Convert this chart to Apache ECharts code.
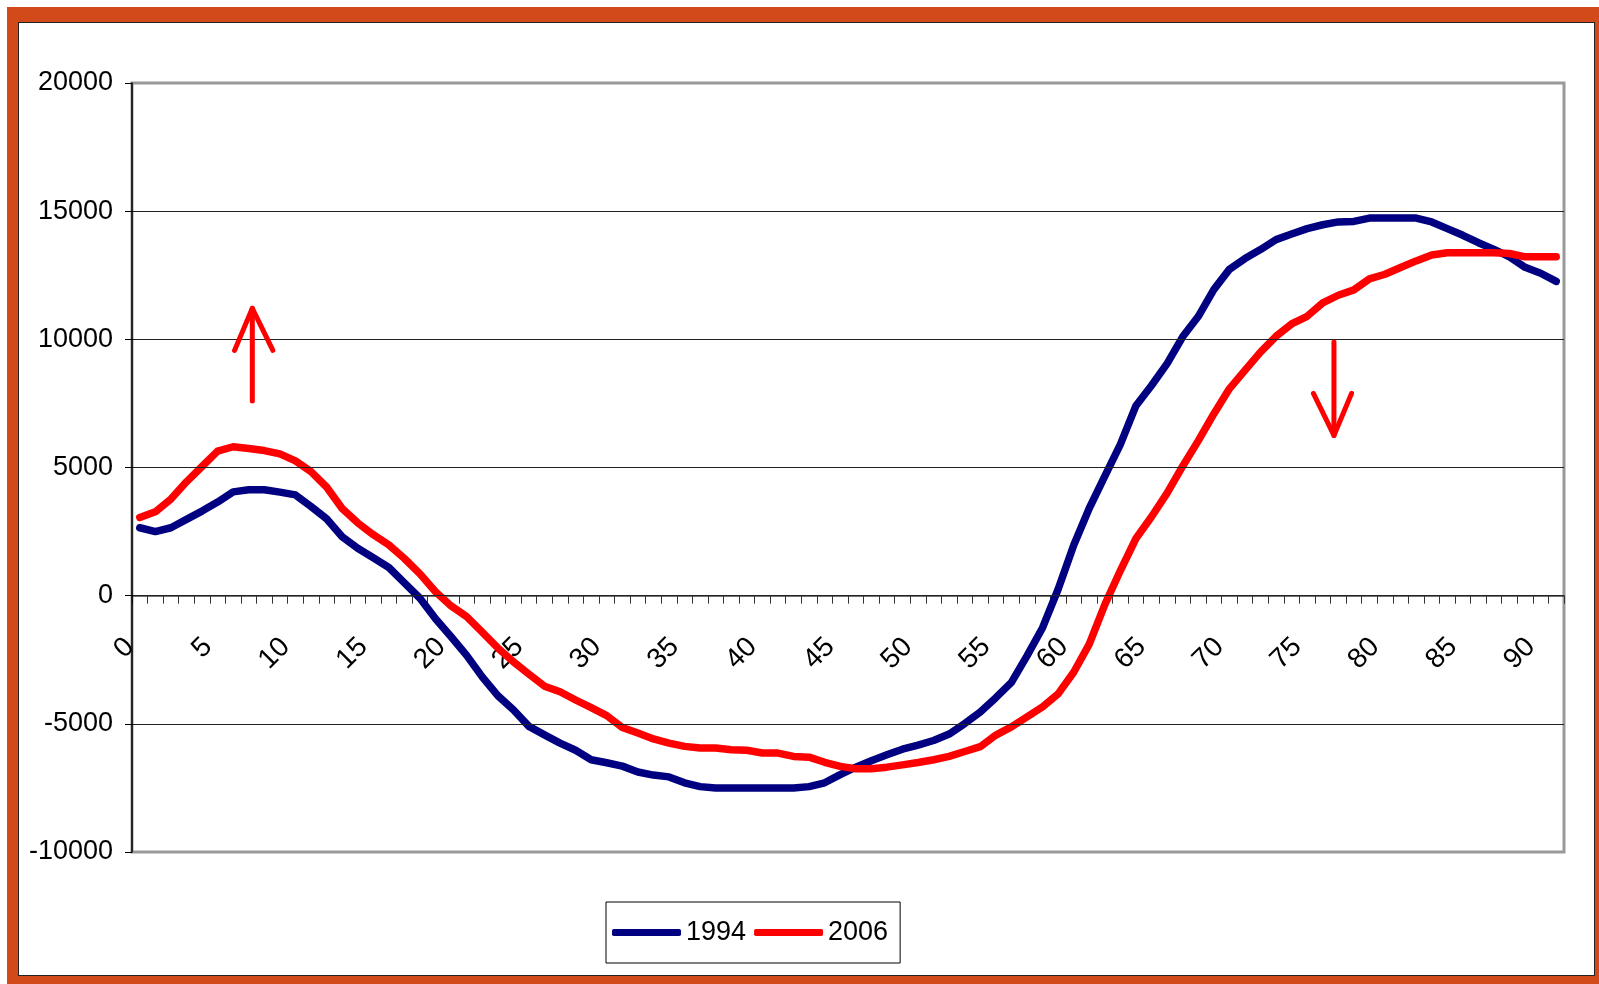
<!DOCTYPE html>
<html>
<head>
<meta charset="utf-8">
<script src="https://cdn.jsdelivr.net/npm/echarts@6/dist/echarts.min.js"></script>
<style>
html,body{margin:0;padding:0;background:#fff;}
#frame{position:absolute;left:7px;top:7px;width:1592px;height:977px;background:#D24A1A;}
#inner{position:absolute;left:18px;top:22px;width:1577px;height:954px;background:#fff;border:1px solid #222;box-sizing:border-box;}
#chart{position:absolute;left:0;top:0;width:1599px;height:984px;}
</style>
</head>
<body>
<div id="frame"></div>
<div id="inner"></div>
<div id="chart"></div>
<script>
// Categories 0..91
const categories = [];
for (let i = 0; i <= 91; i++) categories.push(String(i));

const values1994 = [
  2650, 2500, 2650, 2975, 3300, 3650, 4050, 4130, 4130, 4040,
  3930, 3480, 3000, 2300, 1850, 1480, 1100, 500, -100, -900,
  -1600, -2330, -3170, -3900, -4450, -5100, -5430, -5750, -6030, -6400,
  -6520, -6650, -6880, -7000, -7070, -7300, -7450, -7500, -7500, -7500,
  -7500, -7500, -7500, -7450, -7300, -6980, -6690, -6440, -6210, -5990,
  -5830, -5650, -5400, -4990, -4540, -3980, -3380, -2350, -1250, 250,
  1970, 3410, 4660, 5900, 7410, 8200, 9050, 10100, 10890, 11940,
  12730, 13150, 13500, 13890, 14110, 14320, 14470, 14580, 14600, 14730,
  14730, 14730, 14730, 14580, 14320, 14060, 13770, 13510, 13220, 12810,
  12580, 12260
];

const values2006 = [
  3050, 3270, 3770, 4440, 5040, 5640, 5810, 5740, 5660, 5530,
  5260, 4840, 4240, 3400, 2840, 2380, 1980, 1450, 850, 150,
  -400, -820, -1420, -2040, -2580, -3060, -3530, -3750, -4070, -4370,
  -4680, -5140, -5360, -5590, -5750, -5880, -5940, -5940, -6010, -6030,
  -6140, -6140, -6270, -6300, -6500, -6660, -6750, -6750, -6690, -6600,
  -6510, -6400, -6270, -6080, -5890, -5440, -5120, -4730, -4340, -3830,
  -2990, -1890, -350, 980, 2230, 3080, 4000, 5050, 6040, 7090,
  8070, 8790, 9500, 10120, 10600, 10900, 11420, 11720, 11930, 12360,
  12540, 12800, 13060, 13290, 13380, 13380, 13380, 13380, 13350, 13220,
  13220, 13220
];

const seriesNames = ['1994', '2006'];
const yTicks = [-10000, 20000, 5000]; // min, max, interval

// Annotation arrows (x in category units, y in data units)
const upArrowShaft = [[7.23, 7590], [7.23, 11210]];
const upArrowHead = [[6.09, 9570], [7.23, 11210], [8.55, 9570]];
const downArrowShaft = [[76.72, 9900], [76.72, 6250]];
const downArrowHead = [[75.4, 7890], [76.72, 6250], [77.85, 7890]];

const FONT = "'Liberation Sans', Arial, sans-serif";

const GRID = {left: 132, top: 83, width: 1432, height: 769};
// pixel distance from grid bottom up to the zero line
const zeroOffset = -GRID.height * (0 - yTicks[0]) / (yTicks[1] - yTicks[0]);

const chart = echarts.init(document.getElementById('chart'), null, {renderer: 'canvas'});

function arrowSeries(data) {
  return {
    type: 'line', xAxisIndex: 1, yAxisIndex: 0, data: data,
    symbol: 'none', silent: true, z: 4,
    lineStyle: {color: '#FF0000', width: 5, cap: 'round', join: 'round'}
  };
}

chart.setOption({
  animation: false,
  backgroundColor: 'transparent',
  grid: Object.assign({show: true, borderColor: '#999', borderWidth: 3, backgroundColor: 'transparent'}, GRID),
  legend: {
    data: seriesNames,
    left: 606, top: 902,
    padding: [17, 12, 17, 6],
    itemGap: 8,
    itemWidth: 69, itemHeight: 7,
    icon: 'roundRect',
    borderColor: '#000', borderWidth: 1,
    backgroundColor: '#fff',
    textStyle: {fontFamily: FONT, fontSize: 27, color: '#000'}
  },
  xAxis: [{
    type: 'category',
    data: categories,
    boundaryGap: true,
    z: 1,
    offset: zeroOffset,
    axisLine: {onZero: false, lineStyle: {color: '#444', width: 1.5}},
    axisTick: {show: true, interval: 0, length: 8, lineStyle: {color: '#333', width: 1}},
    axisLabel: {
      interval: 4, rotate: 45, margin: 37,
      padding: [0, 14, 0, 0],
      fontFamily: FONT, fontSize: 28, color: '#000'
    },
    splitLine: {show: false}
  }, {
    type: 'value', show: false, min: -0.5, max: 91.5,
    axisLine: {show: false}, splitLine: {show: false}
  }],
  yAxis: [{
    type: 'value',
    min: yTicks[0], max: yTicks[1], interval: yTicks[2],
    z: 3,
    axisLine: {show: true, onZero: false, lineStyle: {color: '#000', width: 1.5}},
    axisTick: {show: true, length: 7, lineStyle: {color: '#000', width: 1}},
    axisLabel: {margin: 19, fontFamily: FONT, fontSize: 27, color: '#000',
      formatter: function (v) { return String(v); }},
    splitLine: {show: true, lineStyle: {color: ['#999', '#222', '#222', '#222', '#222', '#222', '#999'], width: 1}}
  }],
  series: [{
    name: seriesNames[0], type: 'line', data: values1994,
    symbol: 'none', z: 2,
    itemStyle: {color: '#000080'},
    lineStyle: {color: '#000080', width: 7.5, cap: 'round', join: 'round'}
  }, {
    name: seriesNames[1], type: 'line', data: values2006,
    symbol: 'none', z: 2,
    itemStyle: {color: '#FF0000'},
    lineStyle: {color: '#FF0000', width: 7.5, cap: 'round', join: 'round'}
  },
  arrowSeries(upArrowShaft), arrowSeries(upArrowHead),
  arrowSeries(downArrowShaft), arrowSeries(downArrowHead)]
});
</script>
</body>
</html>
